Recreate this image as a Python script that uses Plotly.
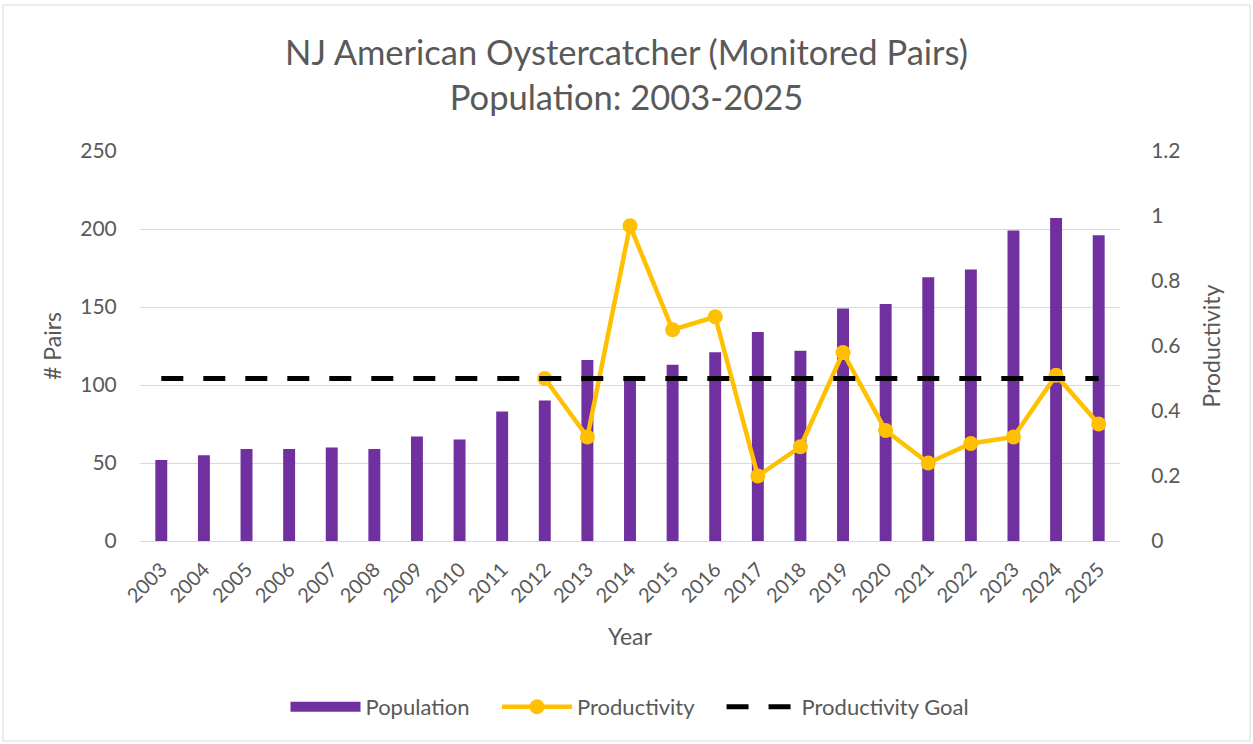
import plotly.graph_objects as go

years = [str(y) for y in range(2003, 2026)]
population = [52, 55, 59, 59, 60, 59, 67, 65, 83, 90, 116, 103, 113, 121, 134, 122, 149, 152, 169, 174, 199, 207, 196]
prod_years = [str(y) for y in range(2012, 2026)]
productivity = [0.50, 0.32, 0.97, 0.65, 0.69, 0.20, 0.29, 0.58, 0.34, 0.24, 0.30, 0.32, 0.51, 0.36]
goal = [0.5] * len(years)

W, H = 1253, 744
ML, MR, MT, MB = 140, 133, 151, 203
PW, PH = W - ML - MR, H - MT - MB

grey = "#595959"
font = "Lato, 'Open Sans', sans-serif"
clear = "rgba(0,0,0,0)"
pad = "&nbsp;" * 4

fig = go.Figure()
fig.add_trace(go.Bar(x=years, y=population, name="Population", showlegend=False,
                     marker=dict(color="#7030a0", line=dict(width=0))))
# legend proxy for the bar series (wide rectangle swatch)
fig.add_trace(go.Scatter(x=[None], y=[None], name="Population" + pad, mode="lines",
                         line=dict(color="#7030a0", width=16)))
fig.add_trace(go.Scatter(x=prod_years, y=productivity, name="Productivity" + pad, yaxis="y2",
                         mode="lines+markers",
                         line=dict(color="#ffc000", width=4.5),
                         marker=dict(color="#ffc000", size=15)))
fig.add_trace(go.Scatter(x=years, y=goal, name="Productivity Goal", yaxis="y2",
                         mode="lines",
                         line=dict(color="black", width=5, dash="22px,20px")))

def px_x(p):
    return (p - ML) / PW

def px_y(p):
    return (H - MB - p) / PH

fig.update_layout(
    width=W, height=H,
    margin=dict(l=ML, r=MR, t=MT, b=MB, autoexpand=False),
    paper_bgcolor="white", plot_bgcolor="white",
    font=dict(family=font, color=grey, size=18),
    title=dict(text="NJ American Oystercatcher (Monitored Pairs)<br>Population: 2003-2025",
               x=0.5, xanchor="center", y=1 - 65 / H, yanchor="middle",
               font=dict(size=34.5, color=grey, family=font)),
    bargap=0.72,
    showlegend=True,
    legend=dict(orientation="h", x=0.5, xanchor="center", y=px_y(707), yanchor="middle",
                font=dict(size=22, color=grey), traceorder="normal", itemwidth=70),
    xaxis=dict(type="category", range=[-0.5, 22.5], tickangle=-45, showgrid=False,
               automargin=False, showline=False,
               ticks="outside", ticklen=8, tickcolor=clear,
               tickfont=dict(size=20, color=grey),
               title=dict(text="Year", font=dict(size=23, color=grey), standoff=23)),
    yaxis=dict(range=[0, 250], dtick=50, showgrid=True, gridcolor="#d9d9d9", gridwidth=1,
               zeroline=True, zerolinecolor="#d9d9d9", zerolinewidth=1, automargin=False,
               showline=False, ticks="outside", ticklen=18, tickcolor=clear,
               tickfont=dict(size=21, color=grey),
               title=dict(text="# Pairs", font=dict(size=23, color=grey), standoff=12)),
    yaxis2=dict(range=[0, 1.2], dtick=0.2, overlaying="y", side="right", showgrid=False,
                zeroline=False, showline=False, ticks="outside", ticklen=26, tickcolor=clear,
                tickfont=dict(size=21, color=grey),
                tickformat="~g", automargin=False,
                title=dict(text="Productivity", font=dict(size=23, color=grey), standoff=24)),
    shapes=[dict(type="rect", xref="paper", yref="paper",
                 x0=px_x(3), x1=px_x(1250), y0=px_y(741), y1=px_y(5),
                 line=dict(color="#d9d9d9", width=1), layer="below")],
)

fig.write_html("out.html", config={"displayModeBar": False},
               post_script="document.body.style.margin='0';")
